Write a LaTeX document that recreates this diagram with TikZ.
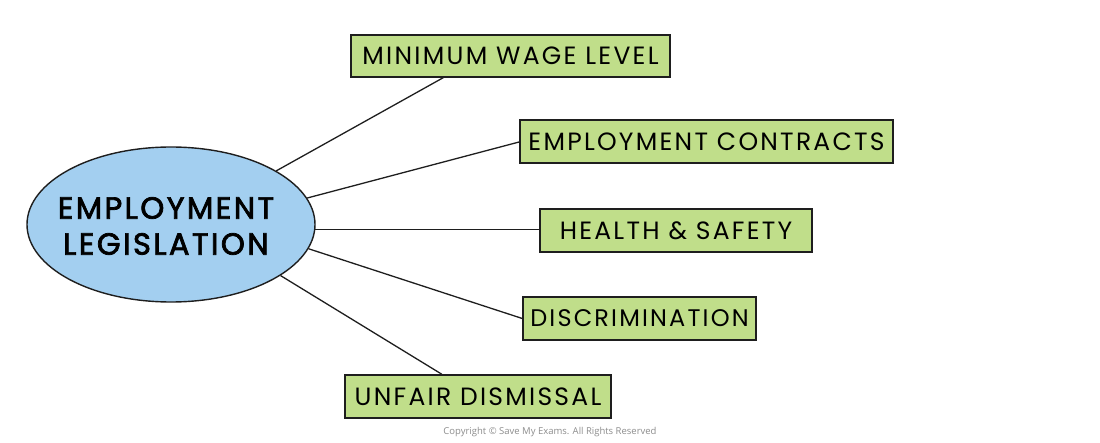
\documentclass[tikz,border=0pt]{standalone}
\usepackage{fontspec}
\setmainfont{Poppins}
\newfontfamily\boxfont[LetterSpace=9]{Poppins}
\newfontfamily\hubfont[LetterSpace=8,FakeBold=2.4]{Poppins}
\newfontfamily\copyfont{Open Sans}
\usetikzlibrary{shapes.geometric,calc}
\definecolor{boxgreen}{RGB}{192,222,138}
\definecolor{ellblue}{RGB}{163,207,240}
\definecolor{edge}{RGB}{30,30,30}
\begin{document}
\begin{tikzpicture}[x=1pt,y=-1pt,
  topic/.style={draw=edge,line width=1.4pt,fill=boxgreen,rectangle,inner sep=0pt,
    font=\boxfont\fontsize{25}{28}\selectfont},
  hub/.style={draw=edge,line width=1.4pt,fill=ellblue,ellipse,inner sep=0pt,
    minimum width=288,minimum height=155},
  link/.style={draw=edge,line width=1.3pt}]
\useasboundingbox (0,0) rectangle (1100,443);
\node[hub] (E) at (171,224.5) {};
\node[align=center,font=\hubfont\fontsize{30.5}{36}\selectfont] (Et) at (166,226) {EMPLOYMENT\\LEGISLATION};
\node[topic,minimum width=319,minimum height=42] (A) at (510.5,56) {MINIMUM WAGE LEVEL};
\node[topic,minimum width=373,minimum height=43] (B) at (706.5,141.5) {EMPLOYMENT CONTRACTS};
\node[topic,minimum width=272,minimum height=43] (C) at (676,230.5) {HEALTH \& SAFETY};
\node[topic,minimum width=233,minimum height=43,font=\boxfont\fontsize{24}{28}\selectfont] (D) at (639.5,318.5) {DISCRIMINATION};
\node[topic,minimum width=266,minimum height=43] (F) at (478,396.5) {UNFAIR DISMISSAL};
\draw[link] (E.27.2) -- ($(A.south west)!0.29!(A.south east)$);
\draw[link] (E.11.4) -- ($(B.north west)!0.51!(B.south west)$);
\draw[link] (E.-2.2) -- (E.-2.2 -| C.west);
\draw[link] (E.-10.6) -- (D.west);
\draw[link] (E.-25.3) -- ($(F.north west)!0.365!(F.north east)$);
\node[text=black!45,font=\copyfont\fontsize{9.5}{11}\selectfont] (cr) at (550,432) {Copyright \textcopyright{} Save My Exams. All Rights Reserved};
\end{tikzpicture}
\end{document}
